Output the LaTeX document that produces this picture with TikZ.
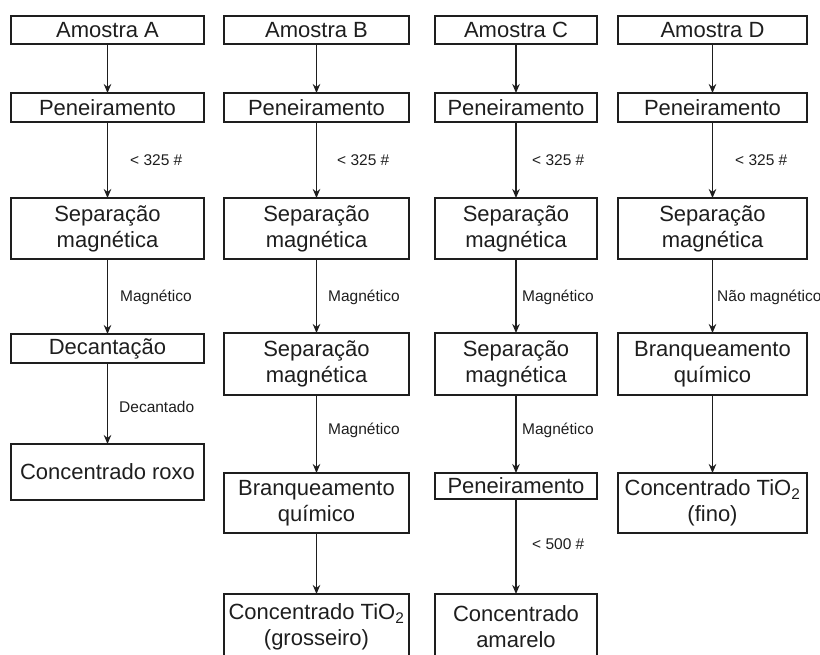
\documentclass[tikz,border=0pt]{standalone}
\usepackage{fontspec}
\setmainfont{Liberation Sans}
\usetikzlibrary{arrows.meta}
\definecolor{ink}{HTML}{1E1E1E}
\begin{document}
\begin{tikzpicture}[x=1pt,y=-1pt,
  box/.style={draw=ink,line width=1.6pt,inner sep=0pt,outer sep=0pt,align=center,
    text=ink,font=\fontsize{22}{26}\selectfont},
  lab/.style={anchor=west,inner sep=0pt,text=ink,font=\fontsize{15.5}{18}\selectfont},
  flow/.style={draw=ink,line width=1.4pt,-{Stealth[length=9pt,width=7.5pt]}},
  colA/.style={box,minimum width=193pt},
  colB/.style={box,minimum width=185pt},
  colC/.style={box,minimum width=162pt},
  colD/.style={box,minimum width=189pt}]
\useasboundingbox (0,0) rectangle (820,655);
\clip (0,0) rectangle (820,655);
% column A
\node[colA,minimum height=28pt] (a1) at (107.5,30) {Amostra A};
\node[colA,minimum height=29pt] (a2) at (107.5,107.5) {Peneiramento};
\node[colA,minimum height=61pt] (a3) at (107.5,228.5) {Separação\\magnética};
\node[colA,minimum height=29pt] (a4) at (107.5,348.5) {Decantação};
\node[colA,minimum height=56pt] (a5) at (107.5,472) {Concentrado roxo};
% column B
\node[colB,minimum height=28pt] (b1) at (316.5,30) {Amostra B};
\node[colB,minimum height=29pt] (b2) at (316.5,107.5) {Peneiramento};
\node[colB,minimum height=61pt] (b3) at (316.5,228.5) {Separação\\magnética};
\node[colB,minimum height=62pt] (b4) at (316.5,364) {Separação\\magnética};
\node[colB,minimum height=60pt] (b5) at (316.5,503) {Branqueamento\\químico};
\node[colB,minimum height=66pt] (b6) at (316.5,627) {Concentrado TiO\textsubscript{2}\\(grosseiro)};
% column C
\node[colC,minimum height=28pt] (c1) at (516,30) {Amostra C};
\node[colC,minimum height=29pt] (c2) at (516,107.5) {Peneiramento};
\node[colC,minimum height=61pt] (c3) at (516,228.5) {Separação\\magnética};
\node[colC,minimum height=62pt] (c4) at (516,364) {Separação\\magnética};
\node[colC,minimum height=26pt] (c5) at (516,486) {Peneiramento};
\node[colC,minimum height=66pt] (c6) at (516,627) {Concentrado\\amarelo};
% column D
\node[colD,minimum height=28pt] (d1) at (712.5,30) {Amostra D};
\node[colD,minimum height=29pt] (d2) at (712.5,107.5) {Peneiramento};
\node[colD,minimum height=61pt] (d3) at (712.5,228.5) {Separação\\magnética};
\node[colD,minimum height=62pt] (d4) at (712.5,364) {Branqueamento\\químico};
\node[colD,minimum height=60pt] (d5) at (712.5,503) {Concentrado TiO\textsubscript{2}\\(fino)};
% connectors
\draw[flow] (a1) -- (a2);
\draw[flow] (a2) -- (a3);
\draw[flow] (a3) -- (a4);
\draw[flow] (a4) -- (a5);
\draw[flow] (b1) -- (b2);
\draw[flow] (b2) -- (b3);
\draw[flow] (b3) -- (b4);
\draw[flow] (b4) -- (b5);
\draw[flow] (b5) -- (b6);
\draw[flow] (c1) -- (c2);
\draw[flow] (c2) -- (c3);
\draw[flow] (c3) -- (c4);
\draw[flow] (c4) -- (c5);
\draw[flow] (c5) -- (c6);
\draw[flow] (d1) -- (d2);
\draw[flow] (d2) -- (d3);
\draw[flow] (d3) -- (d4);
\draw[flow] (d4) -- (d5);
% labels
\node[lab] (la2) at (130,160) {< 325 \#};
\node[lab] (lb2) at (337,160) {< 325 \#};
\node[lab] (lc2) at (532,160) {< 325 \#};
\node[lab] (ld2) at (735,160) {< 325 \#};
\node[lab] (la3) at (120,297) {Magnético};
\node[lab] (lb3) at (328,297) {Magnético};
\node[lab] (lc3) at (522,297) {Magnético};
\node[lab] (ld3) at (717,297) {Não magnético};
\node[lab] (la4) at (119,407) {Decantado};
\node[lab] (lb4) at (328,430) {Magnético};
\node[lab] (lc4) at (522,430) {Magnético};
\node[lab] (lc5) at (532,544) {< 500 \#};
\end{tikzpicture}
\end{document}
